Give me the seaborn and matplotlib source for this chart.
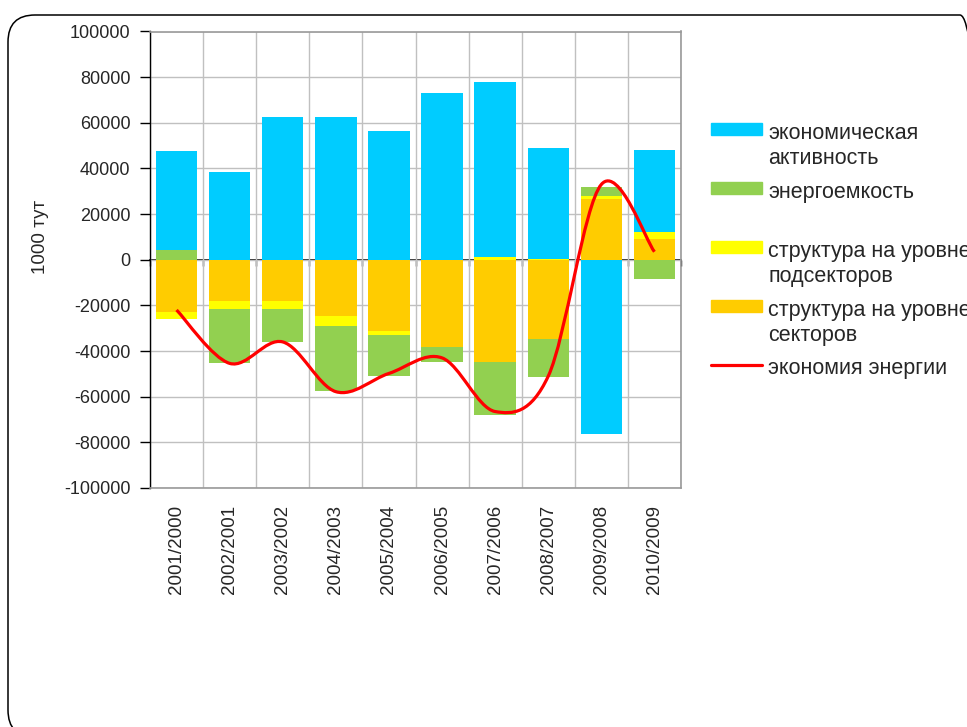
import numpy as np
import matplotlib.pyplot as plt
import seaborn as sns
from matplotlib.path import Path
from matplotlib.patches import PathPatch, Patch, FancyBboxPatch
from matplotlib.lines import Line2D
from matplotlib.transforms import IdentityTransform

# data (1000 тут)
periods = ["2001/2000", "2002/2001", "2003/2002", "2004/2003", "2005/2004",
           "2006/2005", "2007/2006", "2008/2007", "2009/2008", "2010/2009"]
activity = [43200, 38500, 62500, 62500, 56400, 73000, 77000, 48300, -76300, 35700]
intensity = [4300, -23700, -14500, -28400, -18300, -6500, -23200, -16600, 4100, -8500]
subsectors = [-3000, -3400, -3400, -4400, -1800, 0, 1000, 500, 1400, 3200]
sectors = [-23000, -18200, -18200, -24800, -31000, -38100, -44700, -34600, 26500, 9100]
savings = [-22000, -45400, -36000, -57800, -49800, -43000, -66500, -51000, 33000, 3500]

lab_activity = "экономическая\nактивность"
lab_intensity = "энергоемкость\n "
lab_sub = "структура на уровне\nподсекторов"
lab_sec = "структура на уровне\nсекторов"
lab_save = "экономия энергии"

c_blue, c_green, c_yellow, c_orange, c_red = "#00CCFF", "#92D050", "#FFFF00", "#FFCC00", "#FF0000"

sns.set_style("white")
plt.rcParams["font.family"] = ["Liberation Sans", "DejaVu Sans"]
plt.rcParams["axes.unicode_minus"] = False

fig = plt.figure(figsize=(9.67, 7.27), dpi=100)
ax = fig.add_axes([150 / 967, 1 - 488 / 727, 531 / 967, 456.5 / 727])

# stacked bars, positives and negatives stacked separately (Excel style)
layers = [(sectors, c_orange), (subsectors, c_yellow), (intensity, c_green), (activity, c_blue)]
pos = np.zeros(len(periods))
neg = np.zeros(len(periods))
for vals, col in layers:
    v = np.array(vals, dtype=float)
    bottom = np.where(v >= 0, pos, neg)
    sns.barplot(x=periods, y=v, bottom=bottom, color=col, saturation=1, width=0.78,
                errorbar=None, linewidth=0, ax=ax)
    pos += np.clip(v, 0, None)
    neg += np.clip(v, None, 0)

# smoothed savings line (bezier through the points)
pts = np.column_stack([np.arange(len(savings), dtype=float), np.array(savings, dtype=float)])
ext = np.vstack([pts[0], pts, pts[-1]])
verts = [pts[0]]
codes = [Path.MOVETO]
for i in range(len(pts) - 1):
    p0, p1, p2, p3 = ext[i], ext[i + 1], ext[i + 2], ext[i + 3]
    verts += [p1 + (p2 - p0) / 6, p2 - (p3 - p1) / 6, p2]
    codes += [Path.CURVE4] * 3
ax.add_patch(PathPatch(Path(verts, codes), facecolor="none", edgecolor=c_red, lw=2.3, zorder=5))

ax.set_xlim(-0.5, len(periods) - 0.5)
ax.set_ylim(-100000, 100000)
ax.set_yticks(np.arange(-100000, 100001, 20000))
ax.set_xticks(np.arange(-0.5, len(periods), 1), minor=True)
ax.set_axisbelow(True)
ax.grid(axis="y", which="major", color="#c0c0c0", lw=1)
ax.grid(axis="x", which="minor", color="#c0c0c0", lw=1)
ax.tick_params(axis="x", which="both", length=0, pad=12, labelsize=13.5, labelrotation=90)
ax.tick_params(axis="y", length=7, width=1, color="black", direction="out", pad=7, labelsize=13, left=True)
ax.set_xlabel("")
for s in ["top", "right", "bottom"]:
    ax.spines[s].set_color("#999999")
    ax.spines[s].set_linewidth(1.2)
ax.spines["left"].set_color("black")
ax.spines["left"].set_linewidth(1)
ax.set_ylabel("1000 тут", fontsize=13.5)
ax.yaxis.set_label_coords(-0.19, 0.55)

# zero axis line with category tick marks
sec = ax.secondary_xaxis(0.5)
sec.set_xticks(np.arange(-0.5, len(periods), 1))
sec.set_xticklabels([])
sec.xaxis.set_ticks_position("bottom")
sec.tick_params(which="both", length=4, width=1, color="black", direction="out",
                bottom=True, top=False, labelbottom=False, labeltop=False)
for s in sec.spines.values():
    s.set_color("black")
    s.set_linewidth(1.2)

handles = [Patch(color=c_blue), Patch(color=c_green), Patch(color=c_yellow),
           Patch(color=c_orange), Line2D([], [], color=c_red, lw=2.3)]
labels = [lab_activity, lab_intensity, lab_sub, lab_sec, lab_save]
leg = fig.legend(handles, labels, loc="upper left", bbox_to_anchor=(711 / 967, 1 - 123 / 727),
                 frameon=False, fontsize=15.5, borderpad=0, borderaxespad=0,
                 handlelength=2.37, handleheight=0.51, handletextpad=0.28, labelspacing=0.59)
for t in leg.get_texts():
    t.set_linespacing(1.26)
for col in leg._legend_handle_box.get_children():
    for item in col.get_children():
        item.align = "top"

# slide frame
fig.add_artist(FancyBboxPatch((8, -10), 979, 722, boxstyle="round,pad=0,rounding_size=27",
                              facecolor="none", edgecolor="black", lw=1.1,
                              transform=IdentityTransform()))

fig.savefig("out.png", dpi=100)
